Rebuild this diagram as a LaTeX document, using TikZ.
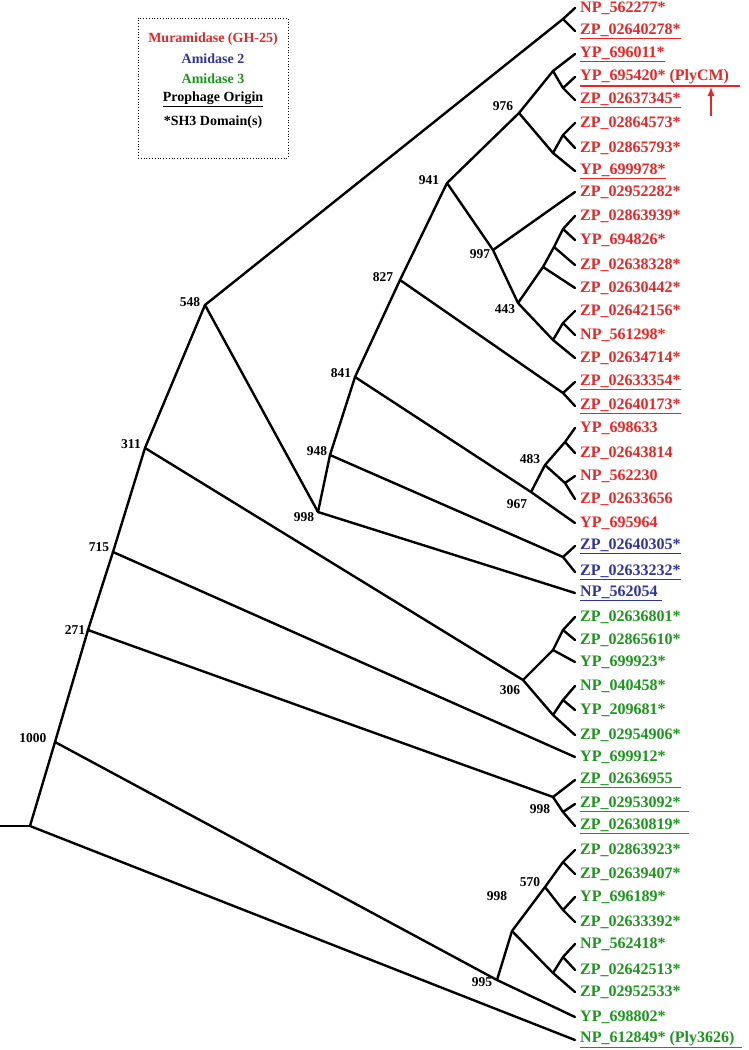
\documentclass[tikz,border=0pt]{standalone}
\usepackage{fontspec}
\usetikzlibrary{arrows.meta}
\setmainfont{Liberation Serif}
\begin{document}
\begin{tikzpicture}[x=1pt,y=-1pt,br/.style={line width=2.4pt,line cap=round,line join=round}]
\definecolor{cr}{RGB}{232,38,38}
\definecolor{cb}{RGB}{48,52,160}
\definecolor{cg}{RGB}{28,150,28}
\useasboundingbox (0,0) rectangle (748,1050);
\tikzset{leaf/.style={anchor=west,font=\bfseries\fontsize{16}{17}\selectfont,inner sep=0pt},
bs/.style={font=\bfseries\fontsize{13.5}{14}\selectfont,inner sep=1pt}}
\foreach \i/\y/\t/\c in {
1/8/{NP\_562277*}/cr, 2/31/{\underline{ZP\_02640278*}}/cr, 3/54/{\underline{YP\_696011*}}/cr,
4/77/{YP\_695420* (PlyCM)}/cr, 5/100/{\underline{ZP\_02637345*}}/cr, 6/123/{ZP\_02864573*}/cr,
7/148/{ZP\_02865793*}/cr, 8/171/{\underline{YP\_699978*}}/cr, 9/192/{ZP\_02952282*}/cr,
10/216/{ZP\_02863939*}/cr, 11/240/{YP\_694826*}/cr, 12/265/{ZP\_02638328*}/cr,
13/288/{ZP\_02630442*}/cr, 14/311/{ZP\_02642156*}/cr, 15/335/{NP\_561298*}/cr,
16/358/{ZP\_02634714*}/cr, 17/382/{\underline{ZP\_02633354*}}/cr, 18/406/{\underline{ZP\_02640173*}}/cr,
19/428/{YP\_698633}/cr, 20/453/{ZP\_02643814}/cr, 21/476/{NP\_562230}/cr,
22/499/{ZP\_02633656}/cr, 23/523/{YP\_695964}/cr, 24/546/{\underline{ZP\_02640305*}}/cb,
25/572/{\underline{ZP\_02633232*}}/cb, 26/593/{\underline{NP\_562054\ }}/cb, 27/617/{ZP\_02636801*}/cg,
28/640/{ZP\_02865610*}/cg, 29/662/{YP\_699923*}/cg, 30/686/{NP\_040458*}/cg,
31/710/{YP\_209681*}/cg, 32/735/{ZP\_02954906*}/cg, 33/757/{YP\_699912*}/cg,
34/780/{\underline{ZP\_02636955\ \ }}/cg, 35/804/{\underline{ZP\_02953092*\ \ }}/cg, 36/826/{\underline{ZP\_02630819*\ \ }}/cg,
37/850/{ZP\_02863923*}/cg, 38/874/{ZP\_02639407*}/cg, 39/897/{YP\_696189*}/cg,
40/922/{ZP\_02633392*}/cg, 41/944/{NP\_562418*}/cg, 42/970/{ZP\_02642513*}/cg,
43/992/{ZP\_02952533*}/cg, 44/1017/{YP\_698802*}/cg, 45/1040/{\underline{NP\_612849* (Ply3626)\ \ }}/cg}
{\coordinate (l\i) at (575,\y); \node[leaf,text=\c] (t\i) at (580,\y) {\t};}
% internal nodes
\foreach \n/\x/\y in {s/0/826,root/30/826,n1000/55/742,n271/88/630,n715/113/552,n311/145/448,n548/205/305,
c1/563/19,n998a/318/512,n948/330/455,n841/355/377,n827/400/280,n941/447/183,n976/519/113,
u1/553/71,u2/563/88,d1/553/153,d2/563/135,n997/493/250,n443/518/303,e1/543/267,e2/554/247,e3/563/229,
f1/553/340,f2/563/323,g1/563/393,n967/531/492,n483/545/465,h1/565/442,h2/565/483,k1/563/557,
n306/523/680,m1/553/650,m2/563/630,m3/553/715,m4/563/700,n998b/553/797,p1/563/812,
n995/497/980,n998c/512/931,n570/545/887,q1/563/862,q2/563/910,r1/553/973,r2/563/957}
{\coordinate (\n) at (\x,\y);}
\foreach \a/\b in {s/root,root/n1000,root/l45,n1000/n271,n1000/n995,n271/n715,n271/n998b,n715/n311,n715/l33,
n311/n548,n311/n306,n548/c1,c1/l1,c1/l2,n548/n998a,n998a/n948,n998a/l26,n948/n841,n948/k1,k1/l24,k1/l25,
n841/n827,n841/n967,n827/n941,n827/g1,g1/l17,g1/l18,n941/n976,n941/n997,n976/u1,u1/l3,u1/u2,u2/l4,u2/l5,
n976/d1,d1/l8,d1/d2,d2/l6,d2/l7,n997/l9,n997/n443,n443/e1,e1/l13,e1/e2,e2/l12,e2/e3,e3/l10,e3/l11,
n443/f1,f1/l16,f1/f2,f2/l14,f2/l15,n967/l23,n967/n483,n483/h1,h1/l19,h1/l20,n483/h2,h2/l21,h2/l22,
n306/m1,m1/l29,m1/m2,m2/l27,m2/l28,n306/m3,m3/l32,m3/m4,m4/l30,m4/l31,n998b/l34,n998b/p1,p1/l35,p1/l36,
n995/l44,n995/n998c,n998c/n570,n570/q1,q1/l37,q1/l38,n570/q2,q2/l39,q2/l40,n998c/r1,r1/l43,r1/r2,r2/l41,r2/l42}
{\draw[br] (\a)--(\b);}
% bootstrap labels
\foreach \p/\t in {{190,302}/548,{131,444}/311,{99,547}/715,{75,630}/271,{33,738}/1000,{429,180}/941,
{503,106}/976,{480,254}/997,{505,309}/443,{383,277}/827,{341,373}/841,{317,451}/948,{304,517}/998,
{530,459}/483,{517,504}/967,{510,690}/306,{540,809}/998,{530,882}/570,{497,896}/998,{482,982}/995}
{\node[bs] at (\p) {\t};}
% PlyCM marker
\coordinate (ua) at (580,86); \coordinate (ub) at (740,86);
\draw[cr,line width=1.2pt] (ua)--(ub);
\coordinate (ar0) at (711,116); \coordinate (ar1) at (711,87);
\draw[cr,line width=1.2pt,-{Latex[length=9pt,width=7pt]}] (ar0)--(ar1);
% legend
\node[draw,dotted,line width=0.8pt,minimum width=150pt,minimum height=140pt] (leg) at (213,88) {};
\tikzset{lgt/.style={bs,font=\bfseries\fontsize{14}{15}\selectfont}}
\node[lgt,text=cr] (lg1) at (213,39) {Muramidase (GH-25)};
\node[lgt,text=cb] (lg2) at (213,59) {Amidase 2};
\node[lgt,text=cg] (lg3) at (213,79) {Amidase 3};
\node[lgt] (lg4) at (213,99) {\underline{Prophage Origin}};
\node[lgt] (lg5) at (213,122) {*SH3 Domain(s)};
\end{tikzpicture}
\end{document}
